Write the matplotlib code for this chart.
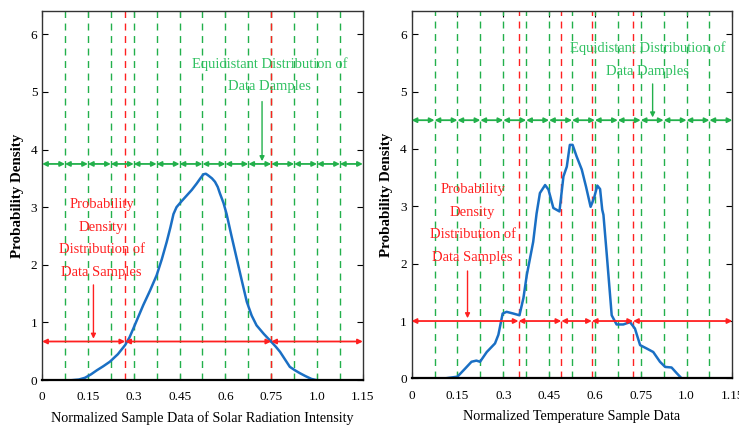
import matplotlib
matplotlib.use("Agg")
from matplotlib import pyplot as plt
import numpy as np

plt.rcParams['font.family'] = ['Liberation Serif', 'DejaVu Serif']

# tick positions and their (as printed) labels
tick_pos = [0, 0.15, 0.3, 0.45, 0.6, 0.75, 0.9, 1.05]
tick_labels = ['0', '0.15', '0.3', '0.45', '0.6', '0.75', '1.0', '1.15']

# equidistant split (green)
green_edges = [0.075 * k for k in range(15)]

# solar radiation: density curve
solar_x = [0.10, 0.12, 0.14, 0.16, 0.179, 0.2, 0.222, 0.248, 0.272, 0.286, 0.299, 0.315,
           0.331, 0.353, 0.375, 0.392, 0.408, 0.42, 0.43, 0.44, 0.456, 0.473, 0.49,
           0.506, 0.518, 0.528, 0.536, 0.544, 0.556, 0.566, 0.575, 0.582, 0.594,
           0.604, 0.62, 0.637, 0.654, 0.67, 0.686, 0.702, 0.726, 0.751, 0.765, 0.779,
           0.795, 0.811, 0.828, 0.844, 0.862, 0.882, 0.898]
solar_y = [0.0, 0.01, 0.04, 0.10, 0.17, 0.24, 0.32, 0.45, 0.61, 0.74, 0.90, 1.10,
           1.30, 1.55, 1.82, 2.10, 2.40, 2.65, 2.88, 3.0, 3.1, 3.2, 3.3,
           3.41, 3.50, 3.57, 3.58, 3.55, 3.50, 3.44, 3.35, 3.24, 3.07,
           2.88, 2.50, 2.11, 1.72, 1.36, 1.12, 0.95, 0.80, 0.66, 0.58, 0.49,
           0.36, 0.23, 0.17, 0.12, 0.07, 0.02, 0.0]
solar_red_edges = [0, 0.272, 0.75, 1.05]
solar_green_y = 3.75
solar_red_y = 0.67

# temperature: density curve
temp_x = [0.109, 0.15, 0.175, 0.196, 0.212, 0.224, 0.246, 0.273, 0.284, 0.298, 0.311,
          0.333, 0.353, 0.366, 0.377, 0.398, 0.409, 0.42, 0.437, 0.448, 0.464,
          0.484, 0.497, 0.508, 0.518, 0.527, 0.54, 0.557, 0.571, 0.586, 0.597,
          0.608, 0.617, 0.624, 0.628, 0.639, 0.655, 0.671, 0.693, 0.715, 0.731,
          0.748, 0.77, 0.791, 0.813, 0.83, 0.851, 0.868, 0.884, 0.9]
temp_y = [0.0, 0.03, 0.17, 0.29, 0.31, 0.29, 0.46, 0.61, 0.76, 1.13, 1.16,
          1.13, 1.10, 1.40, 1.80, 2.38, 2.87, 3.23, 3.37, 3.29, 2.97,
          2.91, 3.52, 3.69, 4.07, 4.07, 3.87, 3.64, 3.34, 2.99, 3.14,
          3.36, 3.30, 2.94, 2.85, 2.15, 1.10, 0.94, 0.94, 0.98, 0.87,
          0.58, 0.52, 0.46, 0.29, 0.20, 0.19, 0.09, 0.0, 0.0]
temp_red_edges = [0, 0.35, 0.49, 0.59, 0.725, 1.05]
temp_green_y = 4.5
temp_red_y = 1.0

GREEN = '#22b04b'
GREEN_TXT = '#2ec060'
RED = '#ff2020'
BLUE = '#1a6fc4'


def arrow_row(ax, edges, y, color):
    for a, b in zip(edges[:-1], edges[1:]):
        ax.annotate('', xy=(b, y), xytext=(a, y),
                    arrowprops=dict(arrowstyle='<|-|>', color=color, lw=1.3,
                                    mutation_scale=7, shrinkA=0, shrinkB=0))


def panel(ax, x, y, red_edges, gy, ry, xlabel, gtxt, garrow, rtxt, rarrow):
    for g in green_edges[1:-1]:
        ax.axvline(g, color=GREEN, ls=(0, (5, 4)), lw=1.0)
    for r in red_edges[1:-1]:
        ax.axvline(r, color=RED, ls=(0, (5, 4)), lw=1.0)
    ax.plot(x, y, color=BLUE, lw=1.8)
    arrow_row(ax, green_edges, gy, GREEN)
    arrow_row(ax, red_edges, ry, RED)

    ax.text(gtxt[0], gtxt[1], 'Equidistant Distribution of\nData Damples', color=GREEN_TXT,
            ha='center', va='center', fontsize=10.5, linespacing=1.95)
    ax.annotate('', xy=(garrow[0], gy), xytext=garrow,
                arrowprops=dict(arrowstyle='-|>', color=GREEN, lw=1.0, mutation_scale=7))
    ax.text(rtxt[0], rtxt[1], 'Probability\nDensity\nDistribution of\nData Samples', color=RED,
            ha='center', va='center', fontsize=10.5, linespacing=1.95)
    ax.annotate('', xy=(rarrow[0], ry), xytext=rarrow,
                arrowprops=dict(arrowstyle='-|>', color=RED, lw=1.0, mutation_scale=7))

    ax.set_xlim(0, 1.05)
    ax.set_ylim(0, 6.4)
    ax.set_xticks(tick_pos)
    ax.set_xticklabels(tick_labels)
    ax.set_yticks(range(7))
    ax.tick_params(direction='in', top=True, right=True, length=4, labelsize=9.5)
    ax.tick_params(axis='x', pad=8)
    ax.set_xlabel(xlabel, fontsize=10.2, labelpad=6)
    ax.set_ylabel('Probability Density', fontsize=10.8, fontweight='bold', labelpad=5)
    for s in ax.spines.values():
        s.set_linewidth(1.0)
        s.set_color('#333333')
    ax.spines['bottom'].set_linewidth(1.6)
    ax.spines['bottom'].set_color('black')


fig = plt.figure(figsize=(7.39, 4.30), dpi=100)
ax1 = fig.add_axes([0.057, 0.116, 0.434, 0.858])
ax2 = fig.add_axes([0.557, 0.12, 0.434, 0.854])

panel(ax1, solar_x, solar_y, solar_red_edges, solar_green_y, solar_red_y,
      'Normalized Sample Data of Solar Radiation Intensity',
      (0.745, 5.29), (0.72, 4.88), (0.195, 2.46), (0.168, 1.70))
panel(ax2, temp_x, temp_y, temp_red_edges, temp_green_y, temp_red_y,
      'Normalized Temperature Sample Data',
      (0.772, 5.56), (0.789, 5.18), (0.2, 2.70), (0.183, 1.92))

fig.savefig('out.png', dpi=100)
